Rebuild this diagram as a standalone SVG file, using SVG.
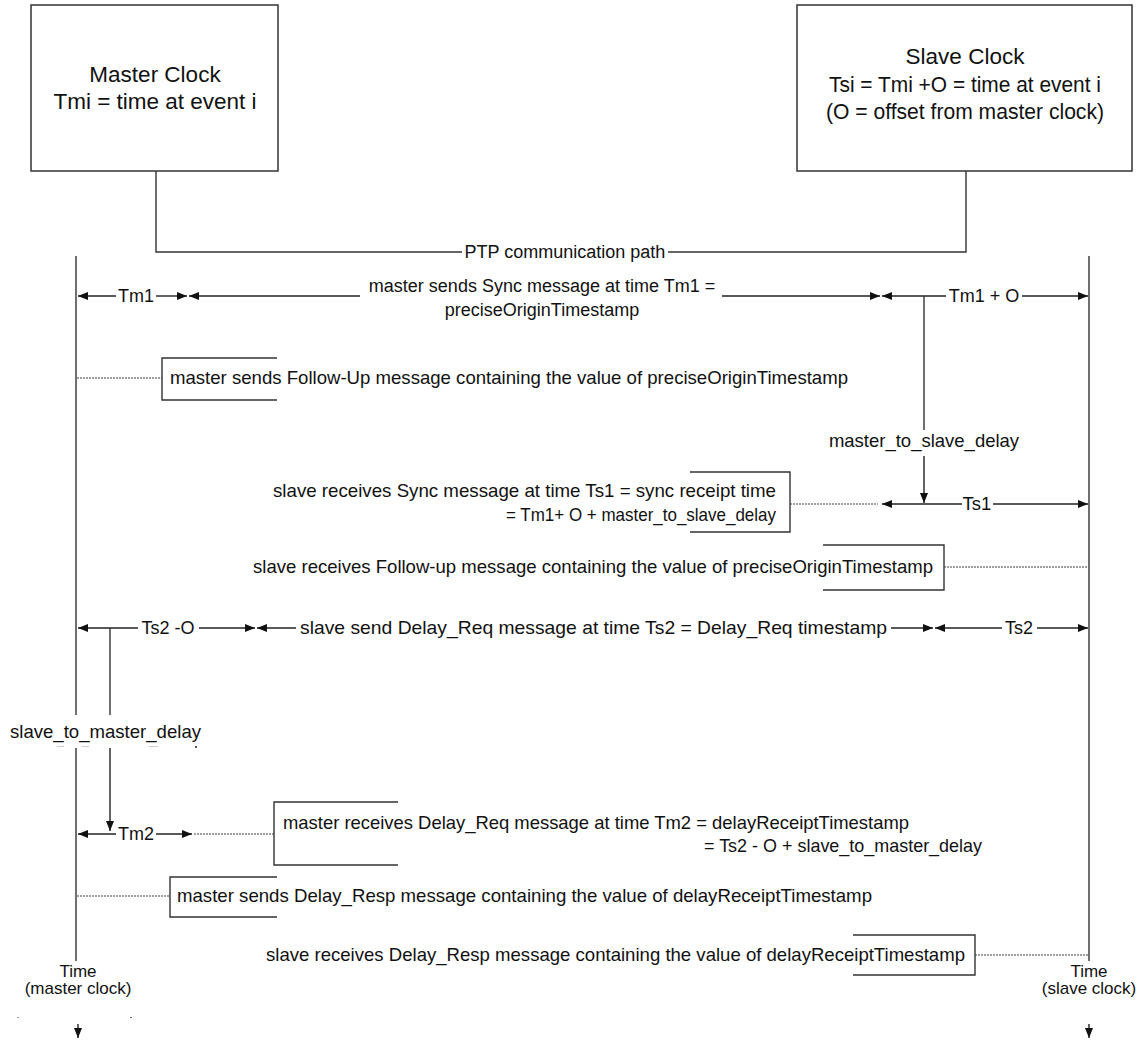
<svg xmlns="http://www.w3.org/2000/svg" width="1140" height="1044" viewBox="0 0 1140 1044">
  <style>
    .box { fill: #fff; stroke: #333; stroke-width: 1.5; }
    .ln { fill: none; stroke: #333; stroke-width: 1.4; }
    .dot { fill: none; stroke: #444; stroke-width: 1.2; stroke-dasharray: 2 1; }
    .arr { fill: none; stroke: #222; stroke-width: 1.4; marker-end: url(#ah); }
    .t { font-family: "Liberation Sans", Arial, sans-serif; fill: #111; }
    .big { font-size: 22.5px; }
    .mid { font-size: 18px; }
    .lbl { font-size: 18.5px; }
    .sm { font-size: 17px; }
    .c { text-anchor: middle; }
    .e { text-anchor: end; }
  </style>
  <defs>
    <marker id="ah" viewBox="0 0 10 8" refX="10" refY="4" markerWidth="10" markerHeight="8" markerUnits="userSpaceOnUse" orient="auto">
      <path d="M0,0 L10,4 L0,8 z" fill="#111"/>
    </marker>
  </defs>

  <rect width="1140" height="1044" fill="#fff"/>

  <!-- clock boxes -->
  <g id="master-clock">
    <rect class="box" x="31" y="5" width="247" height="166"/>
    <text class="t big c" x="155" y="82">Master Clock</text>
    <text class="t big c" x="155" y="109">Tmi = time at event i</text>
  </g>
  <g id="slave-clock">
    <rect class="box" x="797" y="5" width="335" height="166"/>
    <text class="t big c" x="965" y="64">Slave Clock</text>
    <text class="t big c" x="965" y="92" textLength="272" lengthAdjust="spacingAndGlyphs">Tsi = Tmi +O = time at event i</text>
    <text class="t big c" x="965" y="119" textLength="278" lengthAdjust="spacingAndGlyphs">(O = offset from master clock)</text>
  </g>

  <!-- time axes -->
  <g id="master-timeline">
    <line class="ln" x1="76" y1="256" x2="76" y2="715"/>
    <line class="ln" x1="76" y1="748" x2="76" y2="961"/>
    <text class="t sm c" x="78" y="977">Time</text>
    <text class="t sm c" x="78" y="994">(master clock)</text>
    <rect x="17" y="1017" width="2" height="1" fill="#999"/>
    <rect x="130" y="1017" width="2" height="1" fill="#666"/>
    <line class="arr" x1="78" y1="1024" x2="78" y2="1038"/>
  </g>
  <g id="slave-timeline">
    <line class="ln" x1="1089" y1="256" x2="1089" y2="961"/>
    <text class="t sm c" x="1089" y="977">Time</text>
    <text class="t sm c" x="1089" y="994">(slave clock)</text>
    <line class="arr" x1="1089" y1="1024" x2="1089" y2="1038"/>
  </g>

  <g id="connectors">
    <!-- PTP communication path -->
    <polyline class="ln" points="156,171 156,252 462,252"/>
    <polyline class="ln" points="668,252 966,252 966,171"/>
    <text class="t mid c" x="565" y="258">PTP communication path</text>

    <!-- Sync message -->
    <line class="arr" x1="116" y1="296" x2="78" y2="296"/>
    <line class="arr" x1="156" y1="296" x2="187" y2="296"/>
    <text class="t mid c" x="136" y="302">Tm1</text>
    <line class="arr" x1="360" y1="296" x2="189" y2="296"/>
    <text class="t mid c" x="542" y="292">master sends Sync message at time Tm1 =</text>
    <text class="t mid c" x="542" y="316">preciseOriginTimestamp</text>
    <line class="arr" x1="722" y1="296" x2="880" y2="296"/>
    <line class="arr" x1="946" y1="296" x2="882" y2="296"/>
    <text class="t mid c" x="984" y="302">Tm1 + O</text>
    <line class="arr" x1="1022" y1="296" x2="1088" y2="296"/>

    <!-- master_to_slave_delay -->
    <line class="ln" x1="924" y1="296" x2="924" y2="430"/>
    <text class="t lbl c" x="924" y="447">master_to_slave_delay</text>
    <line class="arr" x1="924" y1="456" x2="924" y2="503"/>

    <!-- Follow-Up sent -->
    <line class="dot" x1="77" y1="378" x2="162" y2="378"/>
    <polyline class="ln" points="277,358 162,358 162,400 277,400"/>
    <text class="t lbl" x="170" y="384" textLength="678" lengthAdjust="spacingAndGlyphs">master sends Follow-Up message containing the value of preciseOriginTimestamp</text>

    <!-- Sync received -->
    <text class="t lbl e" x="776" y="497" textLength="503" lengthAdjust="spacingAndGlyphs">slave receives Sync message at time Ts1 = sync receipt time</text>
    <text class="t lbl e" x="776" y="521" textLength="270" lengthAdjust="spacingAndGlyphs">= Tm1+ O + master_to_slave_delay</text>
    <polyline class="ln" points="690,472 790,472 790,532 690,532"/>
    <line class="dot" x1="790" y1="504" x2="878" y2="504"/>
    <line class="arr" x1="962" y1="504" x2="882" y2="504"/>
    <text class="t lbl c" x="977" y="510">Ts1</text>
    <line class="arr" x1="993" y1="504" x2="1088" y2="504"/>

    <!-- Follow-up received -->
    <text class="t lbl e" x="933" y="573" textLength="680" lengthAdjust="spacingAndGlyphs">slave receives Follow-up message containing the value of preciseOriginTimestamp</text>
    <polyline class="ln" points="823,545 944,545 944,590 823,590"/>
    <line class="dot" x1="944" y1="567" x2="1088" y2="567"/>

    <!-- Delay_Req sent -->
    <line class="arr" x1="138" y1="628" x2="78" y2="628"/>
    <text class="t mid c" x="168" y="634">Ts2 -O</text>
    <line class="arr" x1="199" y1="628" x2="255" y2="628"/>
    <line class="arr" x1="296" y1="628" x2="257" y2="628"/>
    <text class="t lbl" x="300" y="634" textLength="587" lengthAdjust="spacingAndGlyphs">slave send Delay_Req message at time Ts2 = Delay_Req  timestamp</text>
    <line class="arr" x1="891" y1="628" x2="933" y2="628"/>
    <line class="arr" x1="1002" y1="628" x2="935" y2="628"/>
    <text class="t mid c" x="1019" y="634">Ts2</text>
    <line class="arr" x1="1037" y1="628" x2="1088" y2="628"/>

    <!-- slave_to_master_delay -->
    <line class="ln" x1="110" y1="628" x2="110" y2="715"/>
    <text class="t lbl" x="10" y="738" textLength="191" lengthAdjust="spacingAndGlyphs">slave_to_master_delay</text>
    <line x1="57" y1="746.5" x2="64" y2="746.5" stroke="#ccc" stroke-width="1"/>
    <line x1="82" y1="746.5" x2="89" y2="746.5" stroke="#ccc" stroke-width="1"/>
    <line x1="149" y1="746.5" x2="158" y2="746.5" stroke="#ccc" stroke-width="1"/>
    <rect x="195" y="746" width="2" height="2" fill="#555"/>
    <line class="arr" x1="110" y1="748" x2="110" y2="831"/>

    <!-- Delay_Req received -->
    <line class="arr" x1="116" y1="834" x2="78" y2="834"/>
    <text class="t mid c" x="136" y="840">Tm2</text>
    <line class="arr" x1="156" y1="834" x2="192" y2="834"/>
    <line class="dot" x1="194" y1="834" x2="274" y2="834"/>
    <polyline class="ln" points="398,802 274,802 274,865 398,865"/>
    <text class="t lbl" x="283" y="829" textLength="626" lengthAdjust="spacingAndGlyphs">master receives Delay_Req message at time Tm2 = delayReceiptTimestamp</text>
    <text class="t lbl e" x="982" y="852" textLength="278" lengthAdjust="spacingAndGlyphs">= Ts2 - O + slave_to_master_delay</text>

    <!-- Delay_Resp sent -->
    <line class="dot" x1="77" y1="896" x2="170" y2="896"/>
    <polyline class="ln" points="277,877 170,877 170,917 277,917"/>
    <text class="t lbl" x="177" y="902" textLength="695" lengthAdjust="spacingAndGlyphs">master sends Delay_Resp message containing the value of delayReceiptTimestamp</text>

    <!-- Delay_Resp received -->
    <text class="t lbl e" x="965" y="961" textLength="699" lengthAdjust="spacingAndGlyphs">slave receives Delay_Resp message containing the value of delayReceiptTimestamp</text>
    <polyline class="ln" points="853,935 975,935 975,975 853,975"/>
    <line class="dot" x1="975" y1="955" x2="1088" y2="955"/>
  </g>
</svg>
